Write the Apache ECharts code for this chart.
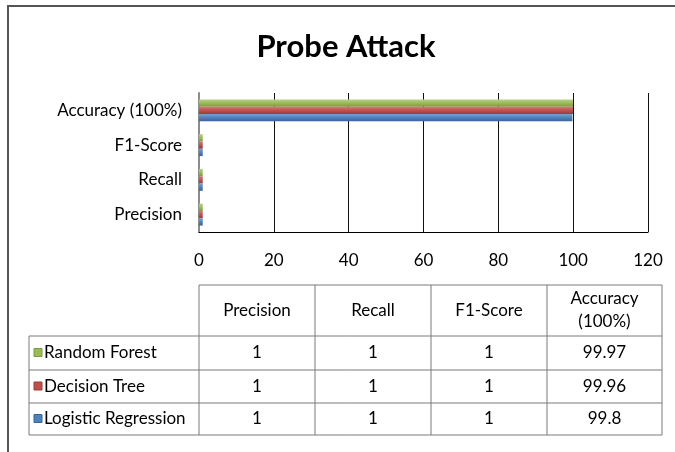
<!DOCTYPE html>
<html>
<head>
<meta charset="utf-8">
<script src="https://cdn.jsdelivr.net/npm/echarts@6/dist/echarts.min.js"></script>
<style>
html, body { margin: 0; padding: 0; background: #fff; overflow: hidden; }
#chart { width: 675px; height: 452px; }
</style>
</head>
<body>
<div id="chart"></div>
<script>
// 指标类别（自下而上）
var categories = ['Precision', 'Recall', 'F1-Score', 'Accuracy (100%)'];
var tableHeaders = ['Precision', 'Recall', 'F1-Score', 'Accuracy\n(100%)'];
var chartTitle = 'Probe Attack';

// 各模型数值
var logisticValues = [1, 1, 1, 99.8];
var decisionValues = [1, 1, 1, 99.96];
var forestValues = [1, 1, 1, 99.97];

var xTicks = [0, 20, 40, 60, 80, 100, 120];

// 顺序与表格一致：从上到下
var seriesList = [
    { name: 'Random Forest', data: forestValues, color: '#9BBB59', light: '#b7cf84', dark: '#7c9a41' },
    { name: 'Decision Tree', data: decisionValues, color: '#C0504D', light: '#d27c79', dark: '#983c39' },
    { name: 'Logistic Regression', data: logisticValues, color: '#4F81BD', light: '#7ba0d0', dark: '#3a6496' }
];

var FONT = 'Lato, "Open Sans", sans-serif';

// 表格布局
var colX = [199, 315, 431, 547, 662];
var rowY = [285, 336, 370, 403, 435];
var firstColX = 29;
var lineColor = '#7a7a7a';

function buildGraphics() {
    var g = [];
    var i, j;
    function line(x1, y1, x2, y2, color, width) {
        g.push({
            type: 'line',
            shape: { x1: x1, y1: y1, x2: x2, y2: y2 },
            style: { stroke: color || lineColor, lineWidth: width || 1 },
            silent: true
        });
    }
    // 标题
    g.push({
        type: 'text',
        x: 346, y: 47,
        style: { text: chartTitle, align: 'center', verticalAlign: 'middle', font: 'bold 31px ' + FONT, fill: '#000' },
        silent: true
    });
    // 横线
    line(colX[0], rowY[0], colX[colX.length - 1], rowY[0]);
    for (i = 1; i < rowY.length; i++) {
        line(firstColX, rowY[i], colX[colX.length - 1], rowY[i]);
    }
    // 竖线
    line(firstColX, rowY[1], firstColX, rowY[rowY.length - 1]);
    for (i = 0; i < colX.length; i++) {
        line(colX[i], rowY[0], colX[i], rowY[rowY.length - 1]);
    }
    // 表头
    for (i = 0; i < tableHeaders.length; i++) {
        g.push({
            type: 'text',
            x: (colX[i] + colX[i + 1]) / 2,
            y: (rowY[0] + rowY[1]) / 2,
            style: {
                text: tableHeaders[i], align: 'center', verticalAlign: 'middle',
                font: '17px ' + FONT, fill: '#000', lineHeight: 23
            },
            silent: true
        });
    }
    // 数据行
    for (j = 0; j < seriesList.length; j++) {
        var cy = (rowY[j + 1] + rowY[j + 2]) / 2;
        g.push({
            type: 'rect',
            shape: { x: 34, y: cy - 4.5, width: 8, height: 8 },
            style: { fill: seriesList[j].color, stroke: seriesList[j].dark, lineWidth: 1 },
            silent: true
        });
        g.push({
            type: 'text',
            x: 44, y: cy,
            style: { text: seriesList[j].name, align: 'left', verticalAlign: 'middle', font: '17px ' + FONT, fill: '#000' },
            silent: true
        });
        for (i = 0; i < seriesList[j].data.length; i++) {
            g.push({
                type: 'text',
                x: (colX[i] + colX[i + 1]) / 2, y: cy,
                style: { text: String(seriesList[j].data[i]), align: 'center', verticalAlign: 'middle', font: '17px ' + FONT, fill: '#000' },
                silent: true
            });
        }
    }
    // 外框（只见上边和左边）
    line(8, 6, 676, 6, '#555', 2);
    line(8, 5, 8, 453, '#555', 2);
    return g;
}

var chart = echarts.init(document.getElementById('chart'));

var option = {
    animation: false,
    backgroundColor: '#fff',
    grid: { left: 199, right: 27, top: 93, bottom: 220 },
    xAxis: {
        type: 'value',
        min: xTicks[0],
        max: xTicks[xTicks.length - 1],
        interval: xTicks[1] - xTicks[0],
        axisLine: { show: true, lineStyle: { color: '#000', width: 1 } },
        axisTick: { show: false },
        axisLabel: { color: '#000', fontFamily: FONT, fontSize: 17, margin: 20 },
        splitLine: { show: true, lineStyle: { color: '#111', width: 1 } }
    },
    yAxis: {
        type: 'category',
        data: categories,
        axisLine: { show: true, lineStyle: { color: '#8c8c8c', width: 2 } },
        axisTick: { show: false },
        axisLabel: { color: '#000', fontFamily: FONT, fontSize: 17, margin: 17 },
        splitLine: { show: false }
    },
    series: seriesList.map(function (s) {
        return {
            name: s.name,
            type: 'bar',
            data: s.data,
            barWidth: 7.3,
            barGap: '0%',
            itemStyle: {
                color: new echarts.graphic.LinearGradient(0, 0, 0, 1, [
                    { offset: 0, color: s.light },
                    { offset: 0.5, color: s.color },
                    { offset: 1, color: s.dark }
                ])
            }
        };
    }),
    graphic: buildGraphics()
};

chart.setOption(option);
</script>
</body>
</html>
